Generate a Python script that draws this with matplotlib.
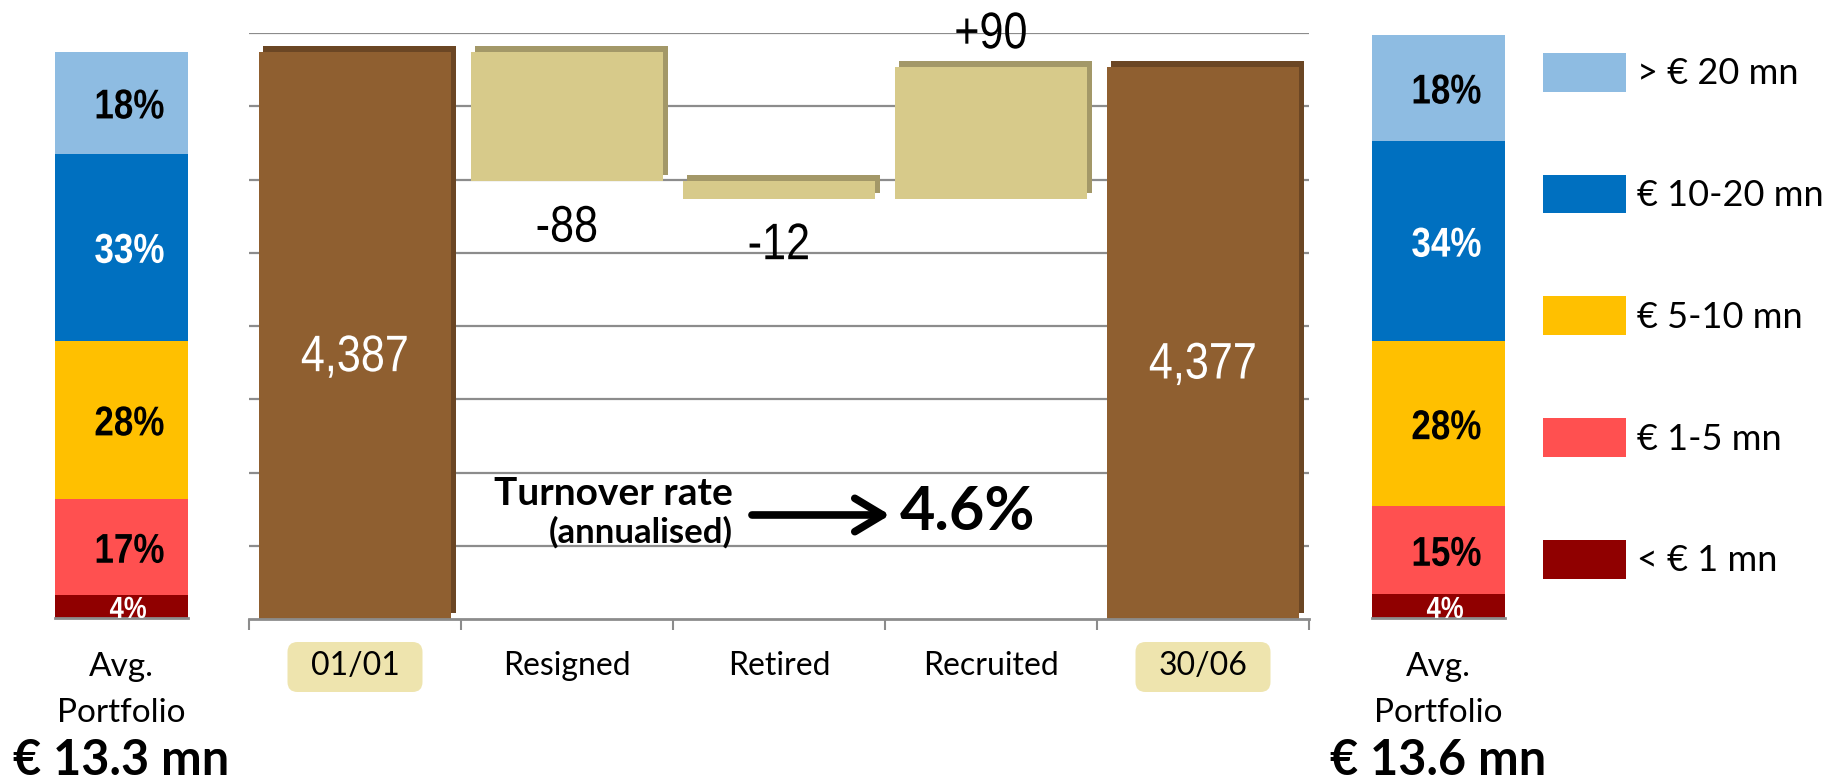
import matplotlib.pyplot as plt
import matplotlib.patheffects as pe
import matplotlib.transforms as mtransforms
from matplotlib.patches import FancyBboxPatch

# headcount walk
categories = ['01/01', 'Resigned', 'Retired', 'Recruited', '30/06']
headcount_start = 4387
changes = [-88, -12, 90]
headcount_end = 4377
turnover_rate = 4.6

# portfolio size split (bottom band first)
bands = ['< € 1 mn', '€ 1-5 mn', '€ 5-10 mn', '€ 10-20 mn', '> € 20 mn']
share_start = [4, 17, 28, 33, 18]
share_end = [4, 15, 28, 34, 18]
avg_portfolio = ['€ 13.3 mn', '€ 13.6 mn']

band_colors = ['#900000', '#FF5050', '#FFC000', '#0070C0', '#8EBCE2']
band_text = ['white', 'black', 'black', 'white', 'black']

NUM = ['Liberation Sans', 'DejaVu Sans']
SANS = ['Lato', 'DejaVu Sans']
GRID = '#8C8C8C'
W, H = 1842, 780


class Narrow(pe.AbstractPathEffect):
    """Squeeze glyphs horizontally about the middle of the string."""

    def __init__(self, sx=0.84):
        super().__init__()
        self.sx = sx

    def draw_path(self, renderer, gc, tpath, affine, rgbFace=None):
        v = tpath.vertices
        cx = (v[:, 0].min() + v[:, 0].max()) / 2
        t = mtransforms.Affine2D().translate(-cx, 0).scale(self.sx, 1).translate(cx, 0) + affine
        renderer.draw_path(gc, tpath, t, rgbFace)


narrow = [Narrow(0.84)]

fig = plt.figure(figsize=(W / 100, H / 100), dpi=100)


def shadow(col):
    return [pe.SimplePatchShadow(offset=(3, 4.3), shadow_rgbFace=col, alpha=1), pe.Normal()]


# ---- waterfall ----
ax = fig.add_axes([249 / W, (H - 619) / H, 1060 / W, 586 / H])
floor = 4000
level = [headcount_start]
for c in changes:
    level.append(level[-1] + c)
steps_x = [1, 2, 3]
bottoms = [min(level[i], level[i + 1]) for i in range(len(changes))]
heights = [abs(c) for c in changes]
totals = [headcount_start, headcount_end]

ax.bar([0, 4], [t - floor for t in totals], bottom=floor, width=0.91,
       color='#8F5F30', path_effects=shadow('#6B4624'))
ax.bar(steps_x, heights, bottom=bottoms, width=0.91,
       color='#D7CA8A', path_effects=shadow('#A39868'))

for xi, t in zip([0, 4], totals):
    ax.annotate(f'{t:,}', (xi, (floor + t) / 2), xytext=(0, -12),
                textcoords='offset points', ha='center', va='center_baseline',
                color='white', fontsize=37, family=NUM, path_effects=narrow)
for xi, c, b, h in zip(steps_x, changes, bottoms, heights):
    anchor, dy = (b, -30) if c < 0 else (b + h, 27)
    ax.annotate(f'{c:+d}', (xi, anchor), xytext=(0, dy), textcoords='offset points',
                ha='center', va='center_baseline', fontsize=37, family=NUM,
                annotation_clip=False, path_effects=narrow)

ax.set_xlim(-0.5, 4.5)
ax.set_ylim(floor, 4400)
ax.set_yticks(range(4050, 4401, 50))
ax.tick_params(axis='y', length=0, labelleft=False)
ax.grid(axis='y', color=GRID, lw=1.6)
ax.set_axisbelow(True)
for s in ['left', 'right', 'top']:
    ax.spines[s].set_visible(False)
ax.spines['bottom'].set_color(GRID)
ax.spines['bottom'].set_linewidth(2)
ax.set_xticks(range(len(categories)), categories, fontsize=23, family=SANS)
ax.set_xticks([i - 0.5 for i in range(len(categories) + 1)], minor=True)
ax.tick_params(axis='x', which='major', length=0, pad=23)
ax.tick_params(axis='x', which='minor', length=8, width=1.5, color=GRID)

# shaded boxes behind the date labels
for xi in [0, 4]:
    tr = fig.dpi_scale_trans + mtransforms.ScaledTranslation(xi, 0, ax.get_xaxis_transform())
    ax.add_patch(FancyBboxPatch((-0.675, -0.73), 1.35, 0.5, transform=tr,
                                boxstyle='round,pad=0,rounding_size=0.1',
                                fc='#EEE4AE', ec='none', clip_on=False, zorder=0))

ax.text(0.4566, 0.1945, 'Turnover rate', transform=ax.transAxes, ha='right',
        va='baseline', fontsize=28, fontweight='bold', family=SANS)
ax.text(0.4566, 0.1297, '(annualised)', transform=ax.transAxes, ha='right',
        va='baseline', fontsize=25, fontweight='bold', family=SANS)
ax.annotate('', xy=(0.6047, 0.1775), xytext=(0.4745, 0.1775), xycoords='axes fraction',
            arrowprops=dict(arrowstyle='->,head_length=1.0,head_width=0.6',
                            mutation_scale=20, lw=5.5, color='black',
                            shrinkA=0, shrinkB=0))
ax.text(0.614, 0.152, f'{turnover_rate}%', transform=ax.transAxes, ha='left',
        va='baseline', fontsize=44, fontweight='bold', family=SANS)


# ---- portfolio split bars ----
def portfolio_stack(left, top, shares, avg):
    a = fig.add_axes([left / W, (H - 618) / H, 133 / W, (618 - top) / H])
    base = 0
    handles = []
    for s, col, tc in zip(shares, band_colors, band_text):
        handles.append(a.bar(0, s, bottom=base, width=1, color=col))
        if s > 5:
            a.text(0.06, base + s / 2, f'{s}%', ha='center', va='center_baseline',
                   color=tc, fontsize=30, fontweight='bold', family=NUM,
                   clip_on=True, path_effects=narrow)
        else:
            a.text(0.05, base, f'{s}%', ha='center', va='baseline', color=tc,
                   fontsize=22, fontweight='bold', family=NUM,
                   clip_on=True, path_effects=narrow)
        base += s
    a.set_xlim(-0.5, 0.5)
    a.set_ylim(0, base)
    a.axis('off')
    a.axhline(0, color=GRID, lw=2, clip_on=False)
    xc = (left + 66.5) / W
    fig.text(xc, 1 - 676 / H, 'Avg.', ha='center', va='baseline', fontsize=24, family=SANS)
    fig.text(xc, 1 - 722 / H, 'Portfolio', ha='center', va='baseline', fontsize=24, family=SANS)
    fig.text(xc, 1 - 775 / H, avg, ha='center', va='baseline', fontsize=35,
             fontweight='bold', family=SANS)
    return handles


h = portfolio_stack(55, 52, share_start, avg_portfolio[0])
portfolio_stack(1372, 35, share_end, avg_portfolio[1])

fig.legend(h[::-1], bands[::-1], loc='upper left', bbox_to_anchor=(1543 / W, 1 - 53 / H),
           frameon=False, handlelength=2.3, handleheight=1.27, handletextpad=0.3,
           labelspacing=2.3, borderpad=0, borderaxespad=0,
           prop={'family': SANS, 'size': 26})

fig.savefig('out.png', dpi=100)
